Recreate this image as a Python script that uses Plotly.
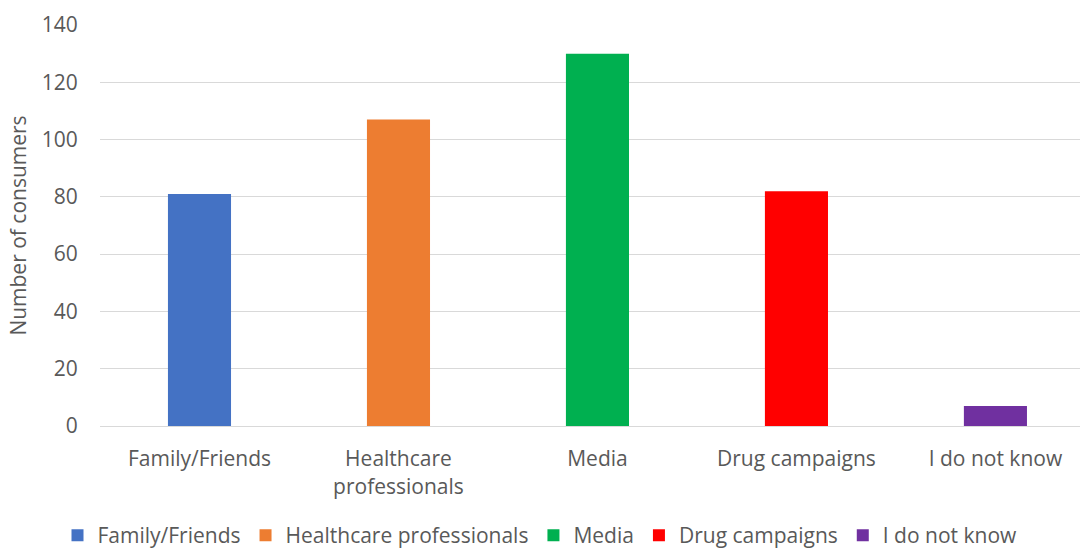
import plotly.graph_objects as go

categories = ["Family/Friends", "Healthcare professionals", "Media", "Drug campaigns", "I do not know"]
tick_labels = ["Family/Friends", "Healthcare<br>professionals", "Media", "Drug campaigns", "I do not know"]
values = [81, 107, 130, 82, 7]
colors = ["#4472C4", "#ED7D31", "#00B050", "#FF0000", "#7030A0"]

FONT = "Open Sans, sans-serif"
GREY = "#595959"
FS = 21

fig = go.Figure()
for cat, tl, v, c in zip(categories, tick_labels, values, colors):
    fig.add_trace(go.Bar(x=[tl], y=[v], name=cat, marker_color=c, width=0.317,
                         marker_line_width=0))

fig.update_layout(
    width=1080, height=551,
    margin=dict(l=100, r=0, t=25, b=125, autoexpand=False),
    barmode="overlay",
    plot_bgcolor="white", paper_bgcolor="white",
    font=dict(family=FONT, size=FS, color=GREY),
    legend=dict(orientation="h", x=0.5, xanchor="center", xref="container",
                y=0.028, yanchor="middle", yref="container",
                font=dict(size=FS, color=GREY), itemwidth=30,
                traceorder="normal"),
    xaxis=dict(categoryorder="array", categoryarray=tick_labels, showgrid=False,
               range=[-0.5, 4.425],
               showline=True, linecolor="#d9d9d9", linewidth=1,
               ticks="outside", ticklen=14, tickcolor="rgba(0,0,0,0)",
               tickfont=dict(size=FS, color=GREY)),
    yaxis=dict(range=[0, 140], dtick=20, showgrid=True, gridcolor="#d9d9d9",
               gridwidth=1, zeroline=False, ticks="outside", ticklen=17,
               tickcolor="rgba(0,0,0,0)",
               tickfont=dict(size=FS, color=GREY),
               title=dict(text="Number of consumers", font=dict(size=FS, color=GREY),
                          standoff=9)),
)
fig.write_html("out.html")
